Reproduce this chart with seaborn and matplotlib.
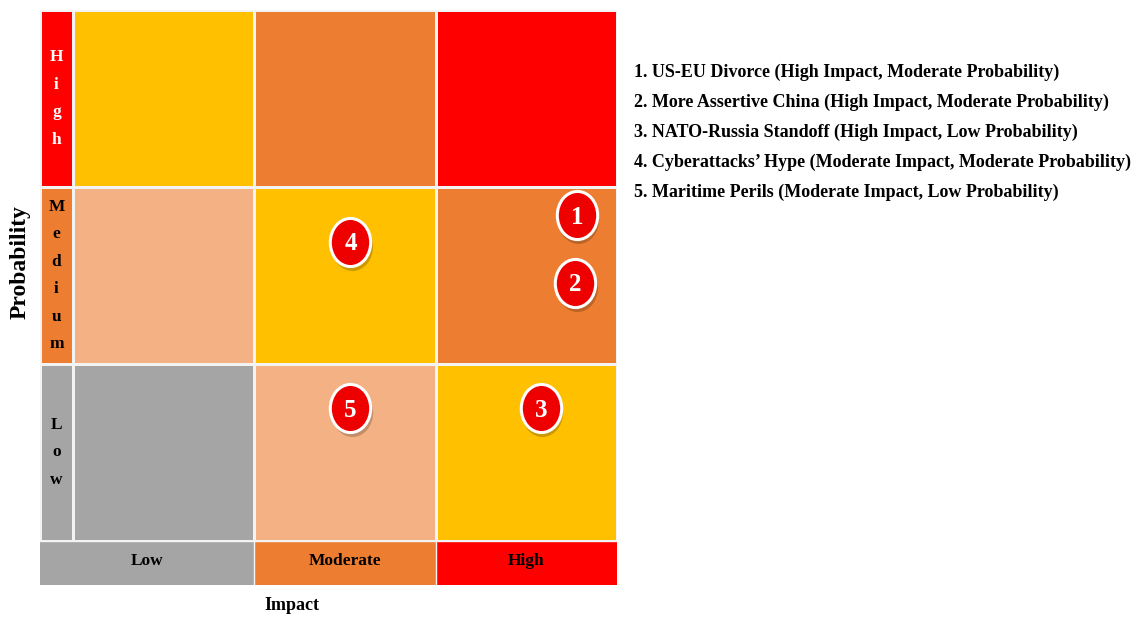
import numpy as np
import pandas as pd
import seaborn as sns
import matplotlib
matplotlib.use("Agg")
import matplotlib.pyplot as plt
from matplotlib.colors import ListedColormap
from matplotlib.path import Path
from matplotlib.transforms import offset_copy, Affine2D

# ---------------- data ----------------
impact_levels = ["Low", "Moderate", "High"]
probability_levels = ["High", "Medium", "Low"]          # top to bottom
level_colors = ["#A5A5A5", "#F4B183", "#FFC000", "#ED7D31", "#FF0000"]
risk_matrix = [[2, 3, 4],
               [1, 2, 3],
               [0, 1, 2]]
probability_band = [4, 3, 0]
impact_band = [0, 3, 4]

risk_ids = [1, 2, 3, 4, 5]
risk_impact = [2.78, 2.77, 2.58, 1.53, 1.53]      # position along impact axis (cells 0..3)
risk_prob = [1.16, 1.54, 2.25, 1.31, 2.25]        # position down probability axis (cells 0..3, top=0)
risk_names = [
    "1. US-EU Divorce (High Impact, Moderate Probability)",
    "2. More Assertive China (High Impact, Moderate Probability)",
    "3. NATO-Russia Standoff (High Impact, Low Probability)",
    "4. Cyberattacks\u2019 Hype (Moderate Impact, Moderate Probability)",
    "5. Maritime Perils (Moderate Impact, Low Probability)",
]

# ---------------- style ----------------
sns.set_style("white")
plt.rcParams["font.family"] = ["Liberation Serif", "DejaVu Serif"]
plt.rcParams["font.weight"] = "bold"
plt.rcParams["text.color"] = "black"

W, H = 1146, 619
fig = plt.figure(figsize=(W / 100, H / 100), dpi=100)

def box(x0, y0, x1, y1):
    return [x0 / W, (H - y1) / H, (x1 - x0) / W, (y1 - y0) / H]

cmap = ListedColormap(level_colors)
line_col = "#F3F3F3"
hm_kw = dict(cmap=cmap, vmin=-0.5, vmax=len(level_colors) - 0.5, cbar=False,
             linewidths=1.0, linecolor=line_col)

# main grid
ax = fig.add_axes(box(73, 10, 617, 541))
df = pd.DataFrame(risk_matrix, index=probability_levels, columns=impact_levels)
sns.heatmap(df, ax=ax, **hm_kw)
ax.set_xticks([]); ax.set_yticks([])
ax.set_xlabel(""); ax.set_ylabel("")

# probability band (left)
axl = fig.add_axes(box(40, 10, 73, 541))
sns.heatmap(pd.DataFrame({"p": probability_band}, index=probability_levels), ax=axl, **hm_kw)
axl.set_xticks([]); axl.set_yticks([])
axl.set_xlabel(""); axl.set_ylabel("")
for i, lab in enumerate(probability_levels):
    axl.text(0.5, i + 0.5, "\n".join(lab), ha="center", va="center",
             fontsize=12.5, fontweight="bold", linespacing=1.95,
             color="white" if lab == "High" else "black")

# impact band (bottom)
axb = fig.add_axes(box(40, 541, 617, 585))
sns.heatmap(pd.DataFrame([impact_band], columns=impact_levels), ax=axb,
            cmap=cmap, vmin=-0.5, vmax=len(level_colors) - 0.5, cbar=False,
            linewidths=0)
ext = 33 / 544 * 3
axb.set_xlim(-ext, 3)
axb.set_facecolor(level_colors[0])
axb.set_xticks([]); axb.set_yticks([])
axb.set_xlabel(""); axb.set_ylabel("")
for sp in axb.spines.values():
    sp.set_visible(False)
for j, lab in enumerate(impact_levels):
    cx = (-ext + 1) / 2 if j == 0 else j + 0.5
    axb.text(cx, 0.45, lab, ha="center", va="center", fontsize=12.5, fontweight="bold")
for xv in [1, 2]:
    axb.axvline(xv, color=line_col, lw=1.0)
axb.axhline(0, color=line_col, lw=1.0)

# risk markers
ellipse = Path.unit_circle().transformed(Affine2D().scale(0.84, 1.0))
mdf = pd.DataFrame({"impact": risk_impact, "prob": risk_prob, "id": risk_ids})
shadow_tr = offset_copy(ax.transData, fig=fig, x=1.0, y=-3, units="points")
ax.scatter(mdf["impact"], mdf["prob"], s=1250, marker=ellipse, color=(0, 0, 0, 0.2),
           linewidths=0, transform=shadow_tr, zorder=3)
sns.scatterplot(data=mdf, x="impact", y="prob", ax=ax, s=1200, marker=ellipse,
                color="#EE0000", edgecolor="white", linewidth=2.2, zorder=4, legend=False)
for _, r in mdf.iterrows():
    ax.text(r["impact"], r["prob"] + 0.01, str(int(r["id"])), ha="center", va="center",
            color="white", fontsize=18, fontweight="bold", zorder=5)
ax.set_xlim(0, 3); ax.set_ylim(3, 0)
ax.set_xlabel(""); ax.set_ylabel("")

# axis titles
fig.text(20 / W, 1 - 262 / H, "Probability", rotation=90, ha="center", va="center",
         fontsize=17, fontweight="bold")
fig.text(292 / W, 1 - 605 / H, "Impact", ha="center", va="center",
         fontsize=13, fontweight="bold")

# legend text
for k, name in enumerate(risk_names):
    fig.text(634 / W, 1 - (72 + 30.2 * k) / H, name, ha="left", va="center",
             fontsize=13, fontweight="bold")

fig.savefig("out.png", dpi=100)
